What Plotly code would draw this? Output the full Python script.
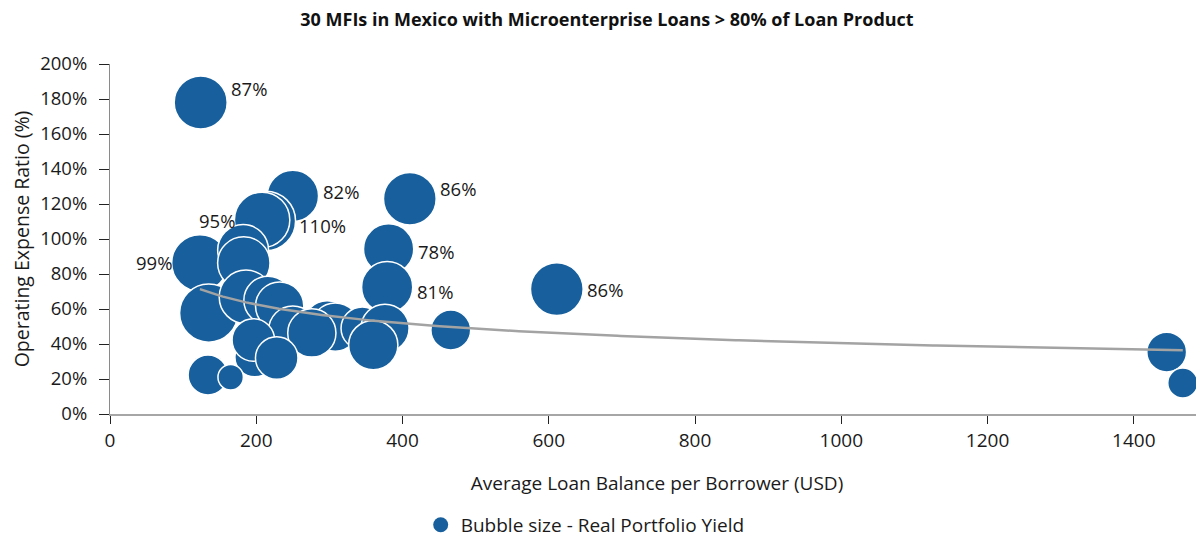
import numpy as np
import plotly.graph_objects as go

# ---- data ----
avg_loan = [124, 250, 410, 213, 208, 123, 182, 183, 381, 379,
            135, 186, 216, 232, 250, 297, 308, 276, 345, 376,
            360, 466, 198, 196, 228, 134, 165, 611, 1445, 1467]
opex_ratio = [178, 124.6, 123, 110.3, 110.9, 86.3, 93.7, 86.3, 94.3, 72.5,
              57.7, 66.9, 65, 61.7, 48, 50.9, 49.7, 46.3, 49, 49,
              39.4, 48, 32.6, 42.3, 32, 22.3, 21, 71.4, 35.4, 17.7]
portfolio_yield = [87, 82, 86, 110, 95, 99, 80, 85, 78, 81,
                   105, 89, 72, 72, 72, 72, 72, 72, 56, 72,
                   75, 49, 49, 56, 56, 49, 20, 86, 49, 28]
labelled = [1, 1, 1, 1, 1, 1, 0, 0, 1, 1,
            0, 0, 0, 0, 0, 0, 0, 0, 0, 0,
            0, 0, 0, 0, 0, 0, 0, 1, 0, 0]

title = "30 MFIs in Mexico with Microenterprise Loans > 80% of Loan Product"
x_title = "Average Loan Balance per Borrower (USD)"
y_title = "Operating Expense Ratio (%)"
legend_name = "Bubble size - Real Portfolio Yield"
x_ticks = [0, 200, 400, 600, 800, 1000, 1200, 1400]
y_ticks = [0, 20, 40, 60, 80, 100, 120, 140, 160, 180, 200]
y_tick_text = [f"{v}%" for v in y_ticks]

# ---- styling ----
BLUE = "#17609d"
FONT = "Open Sans"
TITLE_FONT = "Liberation Sans Narrow, Open Sans"
TXT = "#1a1a1a"
SIZEREF = 99 / 40.0 ** 2  # area mode: diameter = sqrt(size/sizeref)

fig = go.Figure()

# power-law trendline fitted to the data (like Excel's power trendline)
xa = np.array(avg_loan, float)
ya = np.array(opex_ratio, float)
b, ln_a = np.polyfit(np.log(xa), np.log(ya), 1)
xt = np.linspace(xa.min(), xa.max(), 300)
yt = np.exp(ln_a) * xt ** b

fig.add_trace(go.Scatter(
    x=avg_loan, y=opex_ratio, mode="markers", name=legend_name, showlegend=False,
    marker=dict(size=portfolio_yield, sizemode="area", sizeref=SIZEREF,
                color=BLUE, opacity=1, line=dict(color="white", width=1.5)),
    hoverinfo="x+y",
))
fig.add_trace(go.Scatter(
    x=xt, y=yt, mode="lines", showlegend=False,
    line=dict(color="#a3a3a3", width=2.5), hoverinfo="skip",
))
# legend entry (fixed-size marker, like the reference legend)
fig.add_trace(go.Scatter(
    x=[None], y=[None], mode="markers", name=legend_name, showlegend=True,
    marker=dict(size=15, color=BLUE),
))

# data labels
label_side = {4: "left", 5: "left"}
label_dy = {0: -14, 1: -4, 2: -10, 3: 5, 4: 1, 5: 0, 8: 3, 9: 4, 27: 0}
for i, show in enumerate(labelled):
    if not show:
        continue
    r = np.sqrt(portfolio_yield[i] / SIZEREF) / 2
    side = label_side.get(i, "right")
    fig.add_annotation(
        x=avg_loan[i], y=opex_ratio[i], text=f"{portfolio_yield[i]}%",
        showarrow=False, xref="x", yref="y",
        xanchor="left" if side == "right" else "right",
        xshift=(r + 10) if side == "right" else -(r + 6),
        yshift=-label_dy.get(i, 0),
        font=dict(family=FONT, size=18.5, color=TXT),
    )

fig.update_layout(
    width=1204, height=537,
    margin=dict(l=102, r=8, t=56, b=131, autoexpand=False),
    paper_bgcolor="white", plot_bgcolor="white",
    font=dict(family=FONT, color=TXT),
    title=dict(text=f"<b>{title}</b>", x=0.4975, xanchor="center", y=0.9777,
               yanchor="middle",
               font=dict(family=TITLE_FONT, size=18, color="#111")),
    showlegend=True,
    legend=dict(orientation="h", x=0.284, xanchor="left", y=-0.317, yanchor="middle",
                font=dict(family=FONT, size=19, color=TXT)),
    xaxis=dict(range=[0, 1496], tickvals=x_ticks, ticks="outside", ticklen=8,
               tickcolor="#222", showline=True, linecolor="#a6a6a6", linewidth=1.5,
               showgrid=False, zeroline=False, automargin=False,
               tickfont=dict(family=FONT, size=19, color=TXT),
               title=dict(text=x_title, standoff=25,
                          font=dict(family=FONT, size=19, color=TXT))),
    yaxis=dict(range=[0, 200], tickvals=y_ticks, ticktext=y_tick_text, ticks="outside",
               ticklen=10, tickcolor="#222", showline=True, linecolor="#8a8a8a",
               linewidth=1.2, showgrid=False, zeroline=False, automargin=False,
               ticklabelstandoff=8,
               tickfont=dict(family=FONT, size=18.5, color=TXT),
               title=dict(text=y_title, standoff=21,
                          font=dict(family=FONT, size=19.5, color=TXT))),
)

fig.write_html("out.html")
